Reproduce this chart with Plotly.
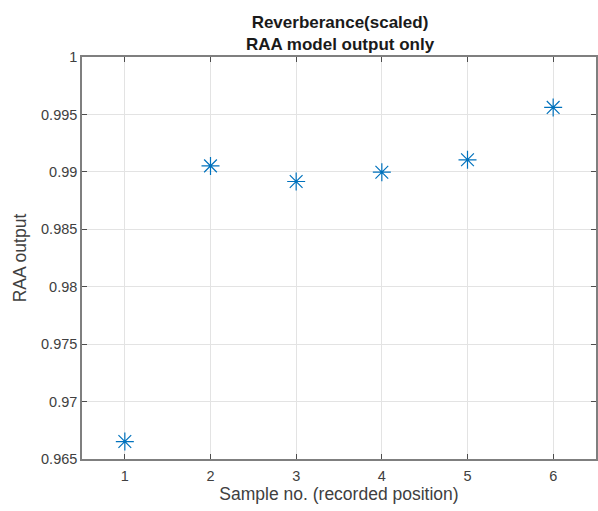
import plotly.graph_objects as go

samples = [1, 2, 3, 4, 5, 6]
raa_output = [0.96652, 0.99052, 0.98916, 0.98997, 0.99105, 0.99561]
x_ticks = [1, 2, 3, 4, 5, 6]
y_ticks = [0.965, 0.97, 0.975, 0.98, 0.985, 0.99, 0.995, 1.0]
y_tick_labels = ["0.965", "0.97", "0.975", "0.98", "0.985", "0.99", "0.995", "1"]

fig = go.Figure()
fig.add_trace(go.Scatter(
    x=samples, y=raa_output, mode="markers",
    marker=dict(symbol="asterisk-open", size=15, color="#0072BD",
                line=dict(color="#1f7fc4", width=1.2)),
    showlegend=False,
))

FONT = "Liberation Sans, Arial, sans-serif"
axis_common = dict(
    showline=True, linecolor="#7f7f7f", linewidth=1.5,
    ticks="inside", ticklen=5, tickcolor="#4d4d4d",
    showgrid=True, gridcolor="#e3e3e3", gridwidth=1,
    mirror="ticks", zeroline=False,
    tickfont=dict(family=FONT, size=14.5, color="#404040"),
)

fig.update_layout(
    width=598, height=511,
    margin=dict(l=82, r=0, t=57, b=52),
    paper_bgcolor="white", plot_bgcolor="white",
    font=dict(family=FONT, color="#404040"),
    title=dict(
        text="<b>Reverberance(scaled)</b><br><b>RAA model output only</b>",
        x=(82 + 598) / 2 / 598, xanchor="center",
        y=1 - 28 / 511, yanchor="middle",
        font=dict(size=17, color="#1a1a1a"),
    ),
    xaxis=dict(axis_common, range=[0.5, 6.5], tickvals=x_ticks, ticklabelstandoff=3,
               title=dict(text="Sample no. (recorded position)",
                          font=dict(size=17.5, color="#404040"), standoff=5)),
    yaxis=dict(axis_common, range=[0.965, 1.0], tickvals=y_ticks, ticktext=y_tick_labels,
               title=dict(text="RAA output", font=dict(size=17.5, color="#404040"), standoff=10)),
)

fig.write_html("out.html")
